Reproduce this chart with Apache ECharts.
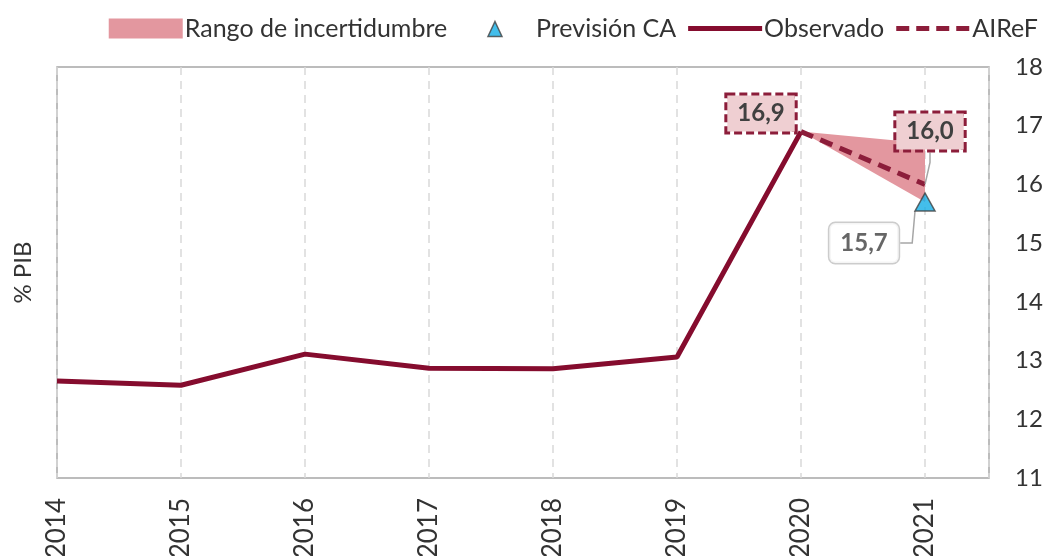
<!DOCTYPE html>
<html><head><meta charset="utf-8">
<script src="https://cdn.jsdelivr.net/npm/echarts@6/dist/echarts.min.js"></script>
<style>html,body{margin:0;padding:0;background:#fff}#c{width:1043px;height:556px}</style>
</head><body><div id="c"></div>
<script>
const years = [2014, 2015, 2016, 2017, 2018, 2019, 2020, 2021];
const observado = [12.65, 12.58, 13.11, 12.87, 12.86, 13.06, 16.9];
const airefYears = [2020, 2021];
const airef = [16.9, 16.0];
const rangoLow = [16.9, 15.7];
const rangoHigh = [16.9, 16.7];
const prevYear = 2021;
const prevCA = 15.7;
const yTicks = [11, 12, 13, 14, 15, 16, 17, 18];

const FONT = 'Lato';
const dark = '#850c2e';
const dash = '#8c1d3a';
const band = '#e3979f';

const chart = echarts.init(document.getElementById('c'), null, {renderer: 'canvas'});
const fmt = v => v.toFixed(1).replace('.', ',');

const ICON_LINE = 'path://M0,0M74,20M0,7.5H74V12.5H0Z';
const ICON_DASH = 'path://M0,0M74,20M0,7.5H13V12.5H0Z M20,7.5H33V12.5H20Z M40,7.5H53V12.5H40Z M60,7.5H73V12.5H60Z';
const ICON_TRI = 'path://M0,0M74,20M28,18L35,3L42,18Z';

chart.setOption({
  animation: false,
  textStyle: {fontFamily: FONT},
  grid: {left: 57, right: 54, top: 67, bottom: 78, containLabel: false, outerBoundsMode: 'none',
         show: true, borderColor: '#a6a6a6', borderWidth: 1.5},
  legend: {
    top: 11, right: 0, itemWidth: 74, itemHeight: 20, itemGap: 12,
    textStyle: {fontSize: 25, color: '#333', fontFamily: FONT, padding: [0, 0, 0, -3]},
    data: [
      {name: 'Rango de incertidumbre', icon: 'rect', itemStyle: {color: band}},
      {name: 'Previsión CA', icon: ICON_TRI, itemStyle: {color: '#14aee6', borderColor: '#404040', borderWidth: 1.5}},
      {name: 'Observado', icon: ICON_LINE, itemStyle: {color: dark, opacity: 1}},
      {name: 'AIReF', icon: ICON_DASH, itemStyle: {color: dash, opacity: 1}}
    ]
  },
  xAxis: {
    type: 'value', min: years[0], max: 2021.516, interval: 1,
    axisLine: {show: false}, axisTick: {show: false},
    splitLine: {show: true, lineStyle: {color: '#d9d9d9', type: [8, 6], width: 1.5}},
    axisLabel: {
      rotate: 90, fontSize: 26, color: '#333', margin: 20, fontFamily: FONT,
      formatter: v => (Number.isInteger(v) && years.includes(v)) ? String(v) : ''
    }
  },
  yAxis: [{
    type: 'value', position: 'right', min: yTicks[0], max: yTicks[yTicks.length - 1], interval: 1,
    axisLine: {show: false}, axisTick: {show: false}, splitLine: {show: false},
    axisLabel: {fontSize: 24, color: '#333', margin: 26, fontFamily: FONT}
  }, {
    type: 'value', position: 'left', min: 11, max: 18,
    name: '% PIB', nameLocation: 'middle', nameRotate: 90, nameGap: 22,
    nameTextStyle: {fontSize: 24, color: '#333', fontFamily: FONT},
    axisLine: {show: false}, axisTick: {show: false}, splitLine: {show: false}, axisLabel: {show: false}
  }],
  series: [
    {
      name: 'Rango de incertidumbre', type: 'custom',
      data: airefYears.map((y, i) => [y, rangoLow[i], rangoHigh[i]]),
      encode: {x: 0, y: [1, 2]},
      itemStyle: {color: band},
      renderItem: (params, api) => {
        const i = params.dataIndex;
        if (i === 0) return null;
        const a = api.coord([api.value(0, i - 1), api.value(1, i - 1)]);
        const b = api.coord([api.value(0, i), api.value(1, i)]);
        const c = api.coord([api.value(0, i), api.value(2, i)]);
        const d = api.coord([api.value(0, i - 1), api.value(2, i - 1)]);
        return {type: 'polygon', shape: {points: [a, b, c, d]}, style: {fill: band}};
      },
      z: 1
    },
    {
      name: 'Observado', type: 'line', symbol: 'none',
      data: observado.map((v, i) => [years[i], v]),
      lineStyle: {color: dark, width: 5}, itemStyle: {color: dark}, z: 3
    },
    {
      name: 'AIReF', type: 'line', symbol: 'circle', symbolSize: 1, showSymbol: true,
      data: airefYears.map((y, i) => ({value: [y, airef[i]], labelLine: {show: i > 0}})),
      lineStyle: {color: dash, width: 5, type: [13, 8]}, itemStyle: {color: 'rgba(0,0,0,0)'},
      label: {
        show: true, position: 'inside', formatter: p => fmt(p.value[1]),
        fontSize: 24, fontWeight: 'bold', color: '#404040', fontFamily: FONT, lineHeight: 26,
        backgroundColor: '#efcfd2', borderColor: dash, borderWidth: 3, borderType: [8, 4],
        padding: [5, 10, 5, 10]
      },
      labelLine: {show: true, length2: 10, lineStyle: {color: '#a6a6a6', width: 1.5}},
      labelLayout: p => p.dataIndex === 0 ? {dx: -40, dy: -18} : {dx: 5, dy: -53},
      z: 4
    },
    {
      name: 'Previsión CA', type: 'scatter', symbol: 'triangle', symbolSize: [20, 18],
      data: [[prevYear, prevCA]],
      itemStyle: {color: '#14aee6', borderColor: '#404040', borderWidth: 1.5},
      label: {
        show: true, position: 'inside', formatter: p => fmt(p.value[1]),
        fontSize: 24, fontWeight: 'bold', color: '#404040', fontFamily: FONT, lineHeight: 26,
        backgroundColor: '#fff', borderColor: '#bfbfbf', borderWidth: 1.5, borderRadius: 6,
        padding: [7, 11, 7, 11]
      },
      labelLine: {show: true, length2: 12, lineStyle: {color: '#a6a6a6', width: 1.5}},
      labelLayout: {dx: -61, dy: 41},
      z: 5
    }
  ]
});
</script></body></html>
